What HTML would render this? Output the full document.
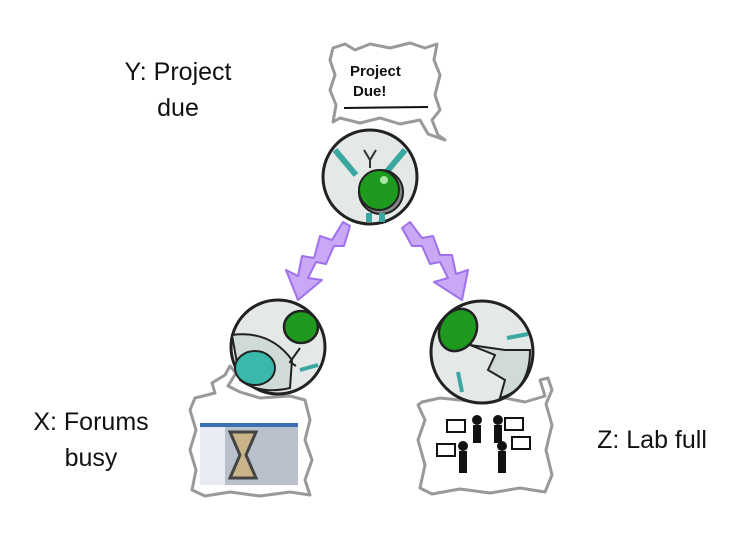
<!DOCTYPE html>
<html><head><style>
body{margin:0;background:#fff;width:740px;height:533px;overflow:hidden;font-family:"Liberation Sans",sans-serif}
.t{position:absolute;font-size:25px;color:#111;text-align:center;line-height:36px}
</style></head><body>
<div class="t" style="left:108px;top:54px;width:140px">Y: Project<br>due</div>
<div class="t" style="left:16px;top:404px;width:150px">X: Forums<br>busy</div>
<div class="t" style="left:582px;top:422px;width:140px">Z: Lab full</div>
<svg width="740" height="533" style="position:absolute;left:0;top:0">
<g fill="none" stroke="#999" stroke-width="3" stroke-linejoin="round">
<path d="M333,48 L345,44 L355,50 L370,44 L390,48 L410,43 L425,48 L437,44 L434,60 L440,75 L435,95 L440,110 L432,120 L438,135 L445,140 L428,134 L420,120 L400,124 L380,118 L360,123 L340,118 L333,122 L336,105 L330,90 L335,75 L330,60 Z" fill="#fff"/>
<path d="M195,398 L215,393 L212,383 L225,375 L230,366 L236,373 L228,386 L240,392 L260,398 L290,396 L305,400 L310,420 L305,440 L312,460 L305,480 L310,495 L290,492 L260,496 L230,492 L205,496 L192,490 L196,470 L190,450 L196,430 L190,410 Z" fill="#fff"/>
<path d="M422,402 L440,398 L470,401 L500,397 L525,402 L545,396 L540,380 L548,378 L552,390 L546,404 L552,425 L546,450 L552,475 L545,492 L520,488 L490,493 L460,489 L432,494 L420,488 L425,465 L418,440 L425,420 L418,405 Z" fill="#fff"/>
</g>
<text x="350" y="76" font-family="Liberation Sans" font-size="15" font-weight="bold" fill="#111">Project</text>
<text x="353" y="96" font-family="Liberation Sans" font-size="15" font-weight="bold" fill="#111">Due!</text>
<line x1="344" y1="108" x2="428" y2="107" stroke="#111" stroke-width="2"/>
<!-- arrows -->
<g fill="#c9a8f5" stroke="#9f72ec" stroke-width="2" stroke-linejoin="round">
<path d="M343,222 L332,240 L320,236 L314,258 L302,256 L298,276 L286,270 L298,300 L322,280 L308,278 L316,262 L326,264 L334,246 L344,246 L350,226 Z"/>
<path d="M410,222 L422,238 L433,236 L440,255 L452,255 L456,274 L468,270 L462,300 L434,282 L448,278 L440,262 L430,264 L422,246 L412,246 L402,228 Z"/>
</g>
<!-- robot Y -->
<circle cx="370" cy="177" r="47" fill="#e4e9e8" stroke="#222" stroke-width="3"/>
<path d="M335,150 L356,175 M405,150 L384,175" stroke="#3aa7a0" stroke-width="6"/>
<path d="M364,150 L370,160 L376,150 M370,160 L370,168" stroke="#333" stroke-width="2" fill="none"/>
<circle cx="381" cy="192" r="22" fill="#888" stroke="#222" stroke-width="2"/>
<circle cx="379" cy="190" r="20" fill="#1e9a1e" stroke="#222" stroke-width="2"/>
<circle cx="384" cy="180" r="4" fill="#a8e6a0"/>
<rect x="366" y="213" width="6" height="9" fill="#3aa7a0"/><rect x="379" y="213" width="6" height="9" fill="#3aa7a0"/>
<!-- robot X -->
<circle cx="278" cy="347" r="47" fill="#e4e9e8" stroke="#222" stroke-width="3"/>
<path d="M232,335 Q270,330 292,360 L290,388 Q260,395 240,380 Z" fill="#d0dad8" stroke="#222" stroke-width="2"/>
<ellipse cx="255" cy="368" rx="20" ry="17" fill="#3ab8ac" stroke="#222" stroke-width="2"/>
<ellipse cx="301" cy="327" rx="17" ry="16" fill="#1e9a1e" stroke="#222" stroke-width="2.5"/>
<path d="M300,348 L290,362 L296,366" stroke="#222" stroke-width="2" fill="none"/>
<path d="M300,370 L318,365" stroke="#3aa7a0" stroke-width="4"/>
<!-- robot Z -->
<circle cx="482" cy="352" r="51" fill="#e4e9e8" stroke="#222" stroke-width="3"/>
<path d="M470,345 L495,355 L488,370 L505,380 L500,398 Q530,390 530,350 L505,350 Z" fill="#d0dad8" stroke="#222" stroke-width="2"/>
<ellipse cx="458" cy="330" rx="18" ry="22" fill="#1e9a1e" stroke="#222" stroke-width="2.5" transform="rotate(30 458 330)"/>
<path d="M507,338 L528,334" stroke="#3aa7a0" stroke-width="4"/>
<path d="M458,372 L462,392" stroke="#3aa7a0" stroke-width="4"/>
<!-- screenshot -->
<rect x="200" y="423" width="98" height="62" fill="#b9c2cc"/>
<rect x="200" y="423" width="98" height="4" fill="#3b6fb5"/>
<rect x="200" y="427" width="25" height="58" fill="#e8ecf2"/>
<path d="M230,432 L256,432 L246,455 L256,478 L230,478 L240,455 Z" fill="#c9b48a" stroke="#444" stroke-width="3"/>
<!-- lab people -->
<g fill="#111">
<rect x="447" y="420" width="18" height="12" fill="#fff" stroke="#111" stroke-width="2"/>
<rect x="437" y="444" width="18" height="12" fill="#fff" stroke="#111" stroke-width="2"/>
<rect x="505" y="418" width="18" height="12" fill="#fff" stroke="#111" stroke-width="2"/>
<rect x="512" y="437" width="18" height="12" fill="#fff" stroke="#111" stroke-width="2"/>
<circle cx="477" cy="420" r="5"/><rect x="473" y="425" width="8" height="18"/>
<circle cx="463" cy="446" r="5"/><rect x="459" y="451" width="8" height="22"/>
<circle cx="498" cy="420" r="5"/><rect x="494" y="425" width="8" height="18"/>
<circle cx="502" cy="446" r="5"/><rect x="498" y="451" width="8" height="22"/>
</g>
</svg>
</body></html>
